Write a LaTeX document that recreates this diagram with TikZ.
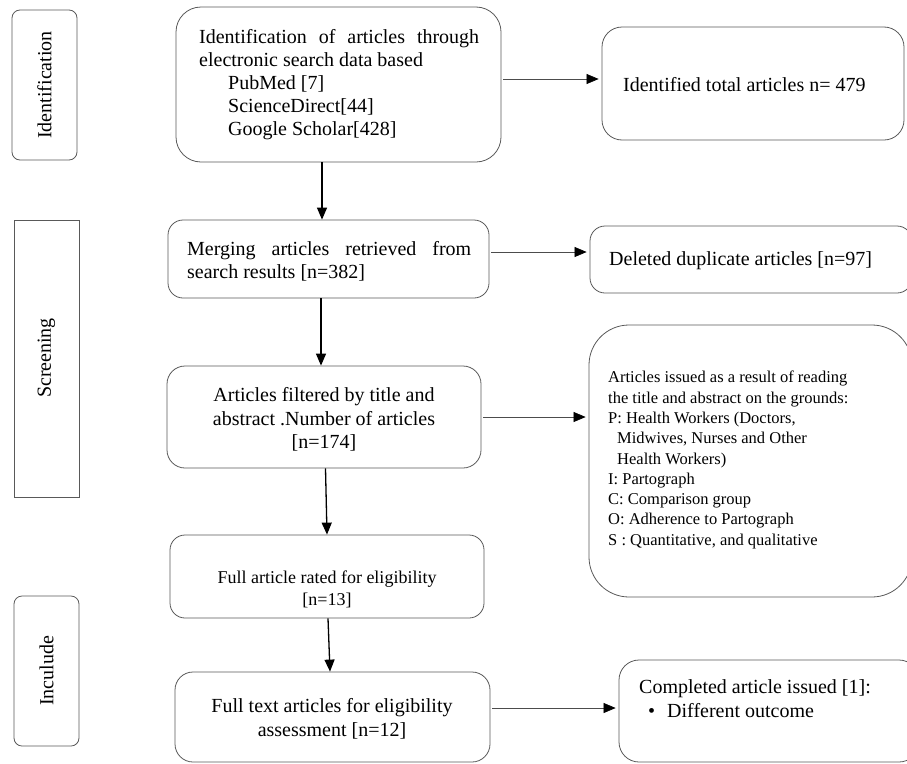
\documentclass[tikz,border=0pt]{standalone}
\usepackage{fontspec}
\setmainfont{Liberation Serif}
\usetikzlibrary{arrows.meta}
\begin{document}
\begin{tikzpicture}[x=1pt,y=-1pt,
  box/.style={draw=black!65, line width=0.8pt, rounded corners=#1, inner sep=0pt},
  lab/.style={font=\fontsize{20}{23}\selectfont, inner sep=0pt},
  small/.style={font=\fontsize{16.5}{20.3}\selectfont, inner sep=0pt},
  vconn/.style={-{Triangle[length=12pt,width=10pt]}, line width=1.3pt, black},
  hconn/.style={-{Triangle[length=12pt,width=10pt,color=black,fill=black]}, line width=0.6pt, draw=black!70, shorten <=2pt, shorten >=3pt},
]
\useasboundingbox (0,0) rectangle (907,763);
\begin{scope}
\clip (0,0) rectangle (907,763);
% stage labels
\node[box=8pt, minimum width=65pt, minimum height=150pt] (idbox) at (44.5,85) {};
\node[lab, rotate=90] (idtxt) at (idbox.center) {Identification};
\node[box=0pt, minimum width=65pt, minimum height=277pt] (scbox) at (46.5,358.5) {};
\node[lab, rotate=90] (sctxt) at (46.5,358) {Screening};
\node[box=8pt, minimum width=65pt, minimum height=150pt] (inbox) at (46.5,671) {};
\node[lab, rotate=90] (intxt) at (46.5,671) {Inculude};

% main column
\node[box=25pt, minimum width=325pt, minimum height=155pt] (b1) at (338.5,84.5) {};
\node[lab, anchor=west] (b1t) at (199,85) {\parbox[t]{280pt}{\fontsize{20}{23}\selectfont\hyphenpenalty=10000
Identification of articles through electronic search data based\\
\hspace*{29pt}PubMed [7]\\
\hspace*{29pt}ScienceDirect[44]\\
\hspace*{29pt}Google Scholar[428]}};

\node[box=15pt, minimum width=321pt, minimum height=78pt] (b2) at (328.5,259) {};
\node[lab, anchor=west] (b2t) at (187,261) {\parbox[t]{284pt}{\fontsize{20}{23}\selectfont\hyphenpenalty=10000
Merging articles retrieved from search results [n=382]}};

\node[box=18pt, minimum width=314pt, minimum height=102pt] (b3) at (324,417) {};
\node[lab, align=center, font=\fontsize{20}{23.5}\selectfont] (b3t) at (324,419.5) {Articles filtered by title and\\abstract .Number of articles\\{}[n=174]};

\node[box=15pt, minimum width=314pt, minimum height=83pt] (b4) at (327,576.5) {};
\node[lab, align=center, font=\fontsize{18}{22}\selectfont] (b4t) at (327,589) {Full article rated for eligibility\\{}[n=13]};

\node[box=18pt, minimum width=315pt, minimum height=90pt] (b5) at (332.5,717) {};
\node[lab, align=center, font=\fontsize{20}{24}\selectfont] (b5t) at (332,719) {Full text articles for eligibility\\assessment [n=12]};

% right column
\node[box=20pt, minimum width=302pt, minimum height=113pt] (bTR) at (753,83.5) {};
\node[lab, anchor=west] (bTRt) at (623,85) {Identified total articles n= 479};

\node[box=15pt, minimum width=322pt, minimum height=67pt] (bDD) at (751,259.5) {};
\node[lab, anchor=west] (bDDt) at (609,261) {Deleted duplicate articles [n=97]};

\node[box=40pt, minimum width=323pt, minimum height=272pt] (bP) at (750.5,461) {};
\node[small, anchor=west] (bPt) at (608,460) {\parbox[t]{300pt}{\fontsize{16.5}{20.3}\selectfont
Articles issued as a result of reading\\
the title and abstract on the grounds:\\
P: Health Workers (Doctors,\\
\hspace*{9pt}Midwives, Nurses and Other\\
\hspace*{9pt}Health Workers)\\
I: Partograph\\
C: Comparison group\\
O: Adherence to Partograph\\
S : Quantitative, and qualitative}};

\node[box=20pt, minimum width=300pt, minimum height=102pt] (bCA) at (769,711) {};
\node[lab, anchor=west] (bCAt) at (639,699) {\parbox[t]{260pt}{\fontsize{20}{24}\selectfont
Completed article issued [1]:\\
\hspace*{9pt}\textbullet\hspace{12pt}Different outcome}};
\end{scope}

% vertical connectors
\draw[vconn] ([xshift=-16.5pt]b1.south) -- ([xshift=-6.5pt]b2.north);
\draw[vconn] ([xshift=-7.5pt]b2.south) -- ([xshift=-3pt]b3.north);
\draw[vconn] ([xshift=1.5pt]b3.south) -- ([xshift=0pt]b4.north);
\draw[vconn] ([xshift=1pt]b4.south) -- ([xshift=-2.5pt]b5.north);

% horizontal connectors
\draw[hconn] ([yshift=5.5pt]b1.east) -- ([yshift=4.5pt]bTR.west);
\draw[hconn] ([yshift=7pt]b2.east) -- ([yshift=7.5pt]bDD.west);
\draw[hconn] (b3.east) -- ([yshift=44pt]bP.west);
\draw[hconn] ([yshift=9pt]b5.east) -- ([yshift=3pt]bCA.west);
\end{tikzpicture}
\end{document}
